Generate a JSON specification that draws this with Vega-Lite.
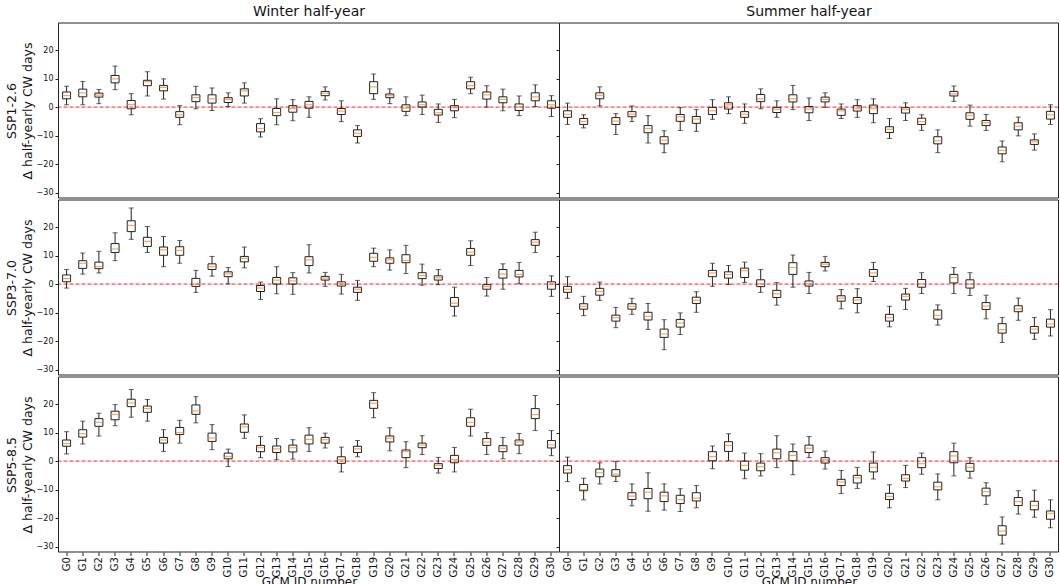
{
  "$schema": "https://vega.github.io/schema/vega-lite/v6.json",
  "background": "white",
  "padding": {"left": 5, "top": 4, "right": 0, "bottom": 0},
  "spacing": 0,
  "config": {
    "font": "DejaVu Sans",
    "view": {"stroke": null},
    "concat": {"spacing": 0},
    "axis": {"grid": false, "domain": false, "tickColor": "#222", "labelColor": "#111", "titleColor": "#111", "tickSize": 3.5, "labelFont": "DejaVu Sans", "titleFont": "DejaVu Sans", "titleFontWeight": "normal", "labelOverlap": false},
    "axisX": {"labelAngle": -90, "labelFontSize": 10, "titleFontSize": 12, "labelPadding": 1, "titlePadding": 0},
    "axisY": {"labelFontSize": 8, "labelPadding": 0, "titleFontSize": 12.5, "titleLineHeight": 16, "titlePadding": 2},
    "title": {"font": "DejaVu Sans", "fontWeight": "normal", "fontSize": 14, "color": "#111", "anchor": "middle", "offset": 4},
    "rule": {"color": "#222", "strokeWidth": 1},
    "tick": {"color": "#222", "thickness": 1}
  },
  "datasets": {
    "box": [
      {"s":"W","p":"SSP1-2.6","g":"G0","lo":0.8,"q1":2.9,"md":4.0,"q3":5.3,"hi":7.3},
      {"s":"W","p":"SSP1-2.6","g":"G1","lo":0.8,"q1":3.6,"md":5.0,"q3":6.3,"hi":9.0},
      {"s":"W","p":"SSP1-2.6","g":"G2","lo":1.2,"q1":3.5,"md":4.2,"q3":4.9,"hi":6.2},
      {"s":"W","p":"SSP1-2.6","g":"G3","lo":6.1,"q1":8.5,"md":9.9,"q3":11.1,"hi":14.4},
      {"s":"W","p":"SSP1-2.6","g":"G4","lo":-2.7,"q1":-0.6,"md":0.9,"q3":2.3,"hi":4.7},
      {"s":"W","p":"SSP1-2.6","g":"G5","lo":3.9,"q1":7.5,"md":8.9,"q3":9.4,"hi":12.4},
      {"s":"W","p":"SSP1-2.6","g":"G6","lo":2.8,"q1":5.7,"md":6.9,"q3":7.6,"hi":9.9},
      {"s":"W","p":"SSP1-2.6","g":"G7","lo":-6.2,"q1":-3.6,"md":-2.7,"q3":-1.6,"hi":0.5},
      {"s":"W","p":"SSP1-2.6","g":"G8","lo":-0.6,"q1":1.9,"md":3.3,"q3":4.3,"hi":7.3},
      {"s":"W","p":"SSP1-2.6","g":"G9","lo":-1.2,"q1":1.4,"md":2.9,"q3":4.3,"hi":6.7},
      {"s":"W","p":"SSP1-2.6","g":"G10","lo":0.2,"q1":1.6,"md":2.7,"q3":3.3,"hi":5.0},
      {"s":"W","p":"SSP1-2.6","g":"G11","lo":1.4,"q1":3.9,"md":5.7,"q3":6.4,"hi":8.5},
      {"s":"W","p":"SSP1-2.6","g":"G12","lo":-10.5,"q1":-8.7,"md":-7.5,"q3":-5.8,"hi":-4.1},
      {"s":"W","p":"SSP1-2.6","g":"G13","lo":-6.2,"q1":-3.0,"md":-1.9,"q3":-0.5,"hi":2.9},
      {"s":"W","p":"SSP1-2.6","g":"G14","lo":-4.8,"q1":-1.8,"md":-0.5,"q3":0.5,"hi":2.6},
      {"s":"W","p":"SSP1-2.6","g":"G15","lo":-3.6,"q1":-0.4,"md":0.8,"q3":2.0,"hi":3.6},
      {"s":"W","p":"SSP1-2.6","g":"G16","lo":2.5,"q1":4.0,"md":4.9,"q3":5.5,"hi":7.1},
      {"s":"W","p":"SSP1-2.6","g":"G17","lo":-5.1,"q1":-2.6,"md":-1.4,"q3":-0.5,"hi":2.2},
      {"s":"W","p":"SSP1-2.6","g":"G18","lo":-12.6,"q1":-10.3,"md":-9.2,"q3":-8.0,"hi":-6.5},
      {"s":"W","p":"SSP1-2.6","g":"G19","lo":2.7,"q1":4.7,"md":7.1,"q3":8.9,"hi":11.6},
      {"s":"W","p":"SSP1-2.6","g":"G20","lo":1.2,"q1":3.3,"md":4.0,"q3":4.6,"hi":6.4},
      {"s":"W","p":"SSP1-2.6","g":"G21","lo":-3.0,"q1":-1.5,"md":-0.4,"q3":0.8,"hi":3.6},
      {"s":"W","p":"SSP1-2.6","g":"G22","lo":-2.6,"q1":0.0,"md":0.8,"q3":1.8,"hi":4.2},
      {"s":"W","p":"SSP1-2.6","g":"G23","lo":-5.4,"q1":-2.8,"md":-2.0,"q3":-0.8,"hi":1.1},
      {"s":"W","p":"SSP1-2.6","g":"G24","lo":-3.7,"q1":-1.3,"md":-0.2,"q3":0.5,"hi":2.7},
      {"s":"W","p":"SSP1-2.6","g":"G25","lo":4.7,"q1":6.4,"md":7.5,"q3":8.9,"hi":10.5},
      {"s":"W","p":"SSP1-2.6","g":"G26","lo":0.0,"q1":2.8,"md":4.3,"q3":5.3,"hi":7.5},
      {"s":"W","p":"SSP1-2.6","g":"G27","lo":-1.3,"q1":1.5,"md":2.7,"q3":3.6,"hi":6.3},
      {"s":"W","p":"SSP1-2.6","g":"G28","lo":-3.0,"q1":-1.2,"md":0.0,"q3":1.1,"hi":3.9},
      {"s":"W","p":"SSP1-2.6","g":"G29","lo":0.2,"q1":2.2,"md":3.6,"q3":5.0,"hi":7.8},
      {"s":"W","p":"SSP1-2.6","g":"G30","lo":-3.3,"q1":-0.4,"md":0.8,"q3":2.2,"hi":4.0},

      {"s":"S","p":"SSP1-2.6","g":"G0","lo":-6.1,"q1":-3.6,"md":-2.5,"q3":-1.3,"hi":1.4},
      {"s":"S","p":"SSP1-2.6","g":"G1","lo":-7.3,"q1":-6.1,"md":-5.0,"q3":-4.0,"hi":-2.7},
      {"s":"S","p":"SSP1-2.6","g":"G2","lo":0.4,"q1":2.9,"md":4.1,"q3":5.0,"hi":7.1},
      {"s":"S","p":"SSP1-2.6","g":"G3","lo":-9.6,"q1":-6.1,"md":-4.9,"q3":-3.7,"hi":-2.3},
      {"s":"S","p":"SSP1-2.6","g":"G4","lo":-5.1,"q1":-3.4,"md":-2.5,"q3":-1.6,"hi":0.4},
      {"s":"S","p":"SSP1-2.6","g":"G5","lo":-12.6,"q1":-9.0,"md":-7.5,"q3":-6.5,"hi":-3.0},
      {"s":"S","p":"SSP1-2.6","g":"G6","lo":-16.0,"q1":-12.9,"md":-11.6,"q3":-10.4,"hi":-8.3},
      {"s":"S","p":"SSP1-2.6","g":"G7","lo":-8.2,"q1":-5.0,"md":-3.4,"q3":-2.6,"hi":-0.2},
      {"s":"S","p":"SSP1-2.6","g":"G8","lo":-8.5,"q1":-5.7,"md":-4.2,"q3":-3.3,"hi":-0.9},
      {"s":"S","p":"SSP1-2.6","g":"G9","lo":-4.3,"q1":-2.6,"md":-1.3,"q3":-0.1,"hi":2.6},
      {"s":"S","p":"SSP1-2.6","g":"G10","lo":-2.3,"q1":-0.7,"md":0.8,"q3":1.5,"hi":3.6},
      {"s":"S","p":"SSP1-2.6","g":"G11","lo":-5.7,"q1":-3.6,"md":-2.5,"q3":-1.6,"hi":1.1},
      {"s":"S","p":"SSP1-2.6","g":"G12","lo":-0.6,"q1":1.9,"md":2.9,"q3":4.4,"hi":6.4},
      {"s":"S","p":"SSP1-2.6","g":"G13","lo":-3.6,"q1":-1.9,"md":-0.8,"q3":-0.1,"hi":2.2},
      {"s":"S","p":"SSP1-2.6","g":"G14","lo":-0.9,"q1":1.8,"md":2.9,"q3":4.3,"hi":7.6},
      {"s":"S","p":"SSP1-2.6","g":"G15","lo":-4.7,"q1":-2.0,"md":-0.7,"q3":0.2,"hi":3.2},
      {"s":"S","p":"SSP1-2.6","g":"G16","lo":-0.1,"q1":1.8,"md":2.7,"q3":3.5,"hi":5.0},
      {"s":"S","p":"SSP1-2.6","g":"G17","lo":-4.0,"q1":-2.9,"md":-1.3,"q3":-0.7,"hi":1.1},
      {"s":"S","p":"SSP1-2.6","g":"G18","lo":-3.6,"q1":-1.4,"md":-0.6,"q3":0.5,"hi":2.6},
      {"s":"S","p":"SSP1-2.6","g":"G19","lo":-5.5,"q1":-2.3,"md":-0.6,"q3":0.7,"hi":2.9},
      {"s":"S","p":"SSP1-2.6","g":"G20","lo":-11.0,"q1":-8.9,"md":-7.8,"q3":-6.9,"hi":-4.0},
      {"s":"S","p":"SSP1-2.6","g":"G21","lo":-4.7,"q1":-2.1,"md":-0.9,"q3":-0.2,"hi":1.5},
      {"s":"S","p":"SSP1-2.6","g":"G22","lo":-8.2,"q1":-6.1,"md":-5.1,"q3":-3.9,"hi":-2.7},
      {"s":"S","p":"SSP1-2.6","g":"G23","lo":-16.0,"q1":-12.9,"md":-11.8,"q3":-10.4,"hi":-8.0},
      {"s":"S","p":"SSP1-2.6","g":"G24","lo":2.0,"q1":3.9,"md":4.6,"q3":5.5,"hi":7.4},
      {"s":"S","p":"SSP1-2.6","g":"G25","lo":-6.7,"q1":-4.3,"md":-2.9,"q3":-2.0,"hi":0.7},
      {"s":"S","p":"SSP1-2.6","g":"G26","lo":-8.2,"q1":-6.5,"md":-5.5,"q3":-4.7,"hi":-2.6},
      {"s":"S","p":"SSP1-2.6","g":"G27","lo":-19.2,"q1":-16.4,"md":-15.2,"q3":-14.0,"hi":-11.9},
      {"s":"S","p":"SSP1-2.6","g":"G28","lo":-10.1,"q1":-8.0,"md":-6.7,"q3":-5.5,"hi":-3.5},
      {"s":"S","p":"SSP1-2.6","g":"G29","lo":-15.1,"q1":-13.1,"md":-12.2,"q3":-11.5,"hi":-9.4},
      {"s":"S","p":"SSP1-2.6","g":"G30","lo":-6.1,"q1":-4.2,"md":-2.7,"q3":-1.5,"hi":0.8},

      {"s":"W","p":"SSP3-7.0","g":"G0","lo":-1.4,"q1":0.8,"md":1.9,"q3":3.2,"hi":5.1},
      {"s":"W","p":"SSP3-7.0","g":"G1","lo":3.5,"q1":5.5,"md":7.3,"q3":8.2,"hi":10.9},
      {"s":"W","p":"SSP3-7.0","g":"G2","lo":3.9,"q1":5.4,"md":6.1,"q3":7.7,"hi":11.5},
      {"s":"W","p":"SSP3-7.0","g":"G3","lo":8.2,"q1":11.1,"md":12.3,"q3":14.2,"hi":18.0},
      {"s":"W","p":"SSP3-7.0","g":"G4","lo":15.7,"q1":18.4,"md":20.6,"q3":22.2,"hi":26.7},
      {"s":"W","p":"SSP3-7.0","g":"G5","lo":11.1,"q1":13.2,"md":15.0,"q3":16.4,"hi":20.2},
      {"s":"W","p":"SSP3-7.0","g":"G6","lo":6.1,"q1":10.1,"md":12.0,"q3":13.0,"hi":16.7},
      {"s":"W","p":"SSP3-7.0","g":"G7","lo":7.3,"q1":10.1,"md":11.8,"q3":13.1,"hi":15.3},
      {"s":"W","p":"SSP3-7.0","g":"G8","lo":-2.9,"q1":-0.8,"md":0.0,"q3":2.0,"hi":4.8},
      {"s":"W","p":"SSP3-7.0","g":"G9","lo":2.8,"q1":5.1,"md":6.1,"q3":7.1,"hi":9.7},
      {"s":"W","p":"SSP3-7.0","g":"G10","lo":0.1,"q1":2.6,"md":3.6,"q3":4.3,"hi":5.8},
      {"s":"W","p":"SSP3-7.0","g":"G11","lo":5.7,"q1":7.8,"md":9.0,"q3":9.7,"hi":13.0},
      {"s":"W","p":"SSP3-7.0","g":"G12","lo":-5.4,"q1":-2.6,"md":-1.4,"q3":-0.5,"hi":0.7},
      {"s":"W","p":"SSP3-7.0","g":"G13","lo":-3.4,"q1":0.0,"md":1.4,"q3":2.3,"hi":6.1},
      {"s":"W","p":"SSP3-7.0","g":"G14","lo":-3.6,"q1":0.0,"md":1.1,"q3":2.2,"hi":4.0},
      {"s":"W","p":"SSP3-7.0","g":"G15","lo":3.9,"q1":6.5,"md":8.5,"q3":9.6,"hi":13.8},
      {"s":"W","p":"SSP3-7.0","g":"G16","lo":-0.8,"q1":1.4,"md":2.1,"q3":2.7,"hi":4.1},
      {"s":"W","p":"SSP3-7.0","g":"G17","lo":-3.5,"q1":-0.7,"md":0.1,"q3":0.8,"hi":3.4},
      {"s":"W","p":"SSP3-7.0","g":"G18","lo":-5.7,"q1":-2.9,"md":-1.8,"q3":-1.1,"hi":1.3},
      {"s":"W","p":"SSP3-7.0","g":"G19","lo":6.1,"q1":8.0,"md":9.4,"q3":10.8,"hi":12.6},
      {"s":"W","p":"SSP3-7.0","g":"G20","lo":4.9,"q1":7.3,"md":8.5,"q3":9.2,"hi":12.0},
      {"s":"W","p":"SSP3-7.0","g":"G21","lo":3.7,"q1":7.5,"md":8.3,"q3":10.3,"hi":13.6},
      {"s":"W","p":"SSP3-7.0","g":"G22","lo":-0.4,"q1":1.9,"md":3.0,"q3":4.0,"hi":7.0},
      {"s":"W","p":"SSP3-7.0","g":"G23","lo":-0.2,"q1":1.4,"md":2.2,"q3":2.9,"hi":5.1},
      {"s":"W","p":"SSP3-7.0","g":"G24","lo":-11.2,"q1":-7.8,"md":-6.7,"q3":-4.7,"hi":-1.1},
      {"s":"W","p":"SSP3-7.0","g":"G25","lo":6.5,"q1":10.1,"md":11.2,"q3":12.5,"hi":15.2},
      {"s":"W","p":"SSP3-7.0","g":"G26","lo":-4.2,"q1":-1.8,"md":-0.9,"q3":-0.2,"hi":2.3},
      {"s":"W","p":"SSP3-7.0","g":"G27","lo":-1.8,"q1":2.1,"md":3.5,"q3":5.1,"hi":7.1},
      {"s":"W","p":"SSP3-7.0","g":"G28","lo":0.1,"q1":2.5,"md":3.4,"q3":4.8,"hi":7.6},
      {"s":"W","p":"SSP3-7.0","g":"G29","lo":11.1,"q1":13.6,"md":14.7,"q3":15.6,"hi":18.2},
      {"s":"W","p":"SSP3-7.0","g":"G30","lo":-4.3,"q1":-1.8,"md":0.0,"q3":0.8,"hi":2.9},

      {"s":"S","p":"SSP3-7.0","g":"G0","lo":-5.0,"q1":-2.9,"md":-1.8,"q3":-0.8,"hi":2.6},
      {"s":"S","p":"SSP3-7.0","g":"G1","lo":-11.1,"q1":-8.8,"md":-7.8,"q3":-6.9,"hi":-4.3},
      {"s":"S","p":"SSP3-7.0","g":"G2","lo":-5.7,"q1":-3.9,"md":-2.6,"q3":-1.5,"hi":0.7},
      {"s":"S","p":"SSP3-7.0","g":"G3","lo":-15.3,"q1":-13.0,"md":-11.8,"q3":-10.9,"hi":-8.2},
      {"s":"S","p":"SSP3-7.0","g":"G4","lo":-10.6,"q1":-8.8,"md":-7.8,"q3":-6.9,"hi":-5.0},
      {"s":"S","p":"SSP3-7.0","g":"G5","lo":-15.9,"q1":-12.6,"md":-11.3,"q3":-9.9,"hi":-6.8},
      {"s":"S","p":"SSP3-7.0","g":"G6","lo":-23.0,"q1":-18.7,"md":-17.5,"q3":-15.8,"hi":-12.5},
      {"s":"S","p":"SSP3-7.0","g":"G7","lo":-17.7,"q1":-15.1,"md":-13.7,"q3":-12.4,"hi":-10.1},
      {"s":"S","p":"SSP3-7.0","g":"G8","lo":-9.9,"q1":-6.8,"md":-5.7,"q3":-4.6,"hi":-2.7},
      {"s":"S","p":"SSP3-7.0","g":"G9","lo":-0.8,"q1":2.6,"md":3.9,"q3":4.8,"hi":7.3},
      {"s":"S","p":"SSP3-7.0","g":"G10","lo":-0.1,"q1":2.1,"md":3.4,"q3":4.3,"hi":6.5},
      {"s":"S","p":"SSP3-7.0","g":"G11","lo":0.6,"q1":2.3,"md":4.7,"q3":5.6,"hi":7.7},
      {"s":"S","p":"SSP3-7.0","g":"G12","lo":-2.9,"q1":-0.9,"md":0.1,"q3":1.5,"hi":5.1},
      {"s":"S","p":"SSP3-7.0","g":"G13","lo":-7.4,"q1":-4.7,"md":-3.4,"q3":-2.2,"hi":0.5},
      {"s":"S","p":"SSP3-7.0","g":"G14","lo":-1.1,"q1":3.4,"md":5.8,"q3":7.5,"hi":10.2},
      {"s":"S","p":"SSP3-7.0","g":"G15","lo":-3.3,"q1":-0.7,"md":0.1,"q3":1.1,"hi":4.1},
      {"s":"S","p":"SSP3-7.0","g":"G16","lo":4.6,"q1":6.1,"md":7.0,"q3":7.6,"hi":9.7},
      {"s":"S","p":"SSP3-7.0","g":"G17","lo":-8.7,"q1":-6.0,"md":-4.9,"q3":-4.1,"hi":-1.9},
      {"s":"S","p":"SSP3-7.0","g":"G18","lo":-10.1,"q1":-6.8,"md":-5.6,"q3":-4.7,"hi":-1.6},
      {"s":"S","p":"SSP3-7.0","g":"G19","lo":0.9,"q1":2.7,"md":3.9,"q3":5.1,"hi":7.6},
      {"s":"S","p":"SSP3-7.0","g":"G20","lo":-15.0,"q1":-13.0,"md":-11.8,"q3":-10.6,"hi":-7.8},
      {"s":"S","p":"SSP3-7.0","g":"G21","lo":-8.9,"q1":-5.6,"md":-4.3,"q3":-3.5,"hi":-1.5},
      {"s":"S","p":"SSP3-7.0","g":"G22","lo":-3.3,"q1":-1.1,"md":0.1,"q3":1.6,"hi":4.0},
      {"s":"S","p":"SSP3-7.0","g":"G23","lo":-14.4,"q1":-12.3,"md":-11.0,"q3":-9.1,"hi":-7.3},
      {"s":"S","p":"SSP3-7.0","g":"G24","lo":-3.3,"q1":0.4,"md":2.3,"q3":3.4,"hi":5.8},
      {"s":"S","p":"SSP3-7.0","g":"G25","lo":-4.0,"q1":-1.4,"md":0.0,"q3":1.5,"hi":4.0},
      {"s":"S","p":"SSP3-7.0","g":"G26","lo":-12.2,"q1":-8.9,"md":-7.7,"q3":-6.5,"hi":-3.9},
      {"s":"S","p":"SSP3-7.0","g":"G27","lo":-20.5,"q1":-17.2,"md":-16.0,"q3":-13.9,"hi":-11.7},
      {"s":"S","p":"SSP3-7.0","g":"G28","lo":-12.7,"q1":-9.7,"md":-8.7,"q3":-7.6,"hi":-4.9},
      {"s":"S","p":"SSP3-7.0","g":"G29","lo":-19.4,"q1":-17.2,"md":-15.8,"q3":-14.9,"hi":-11.7},
      {"s":"S","p":"SSP3-7.0","g":"G30","lo":-18.2,"q1":-15.1,"md":-14.0,"q3":-12.3,"hi":-9.0},

      {"s":"W","p":"SSP5-8.5","g":"G0","lo":2.5,"q1":5.2,"md":6.1,"q3":7.4,"hi":10.3},
      {"s":"W","p":"SSP5-8.5","g":"G1","lo":6.0,"q1":8.4,"md":9.6,"q3":11.0,"hi":14.0},
      {"s":"W","p":"SSP5-8.5","g":"G2","lo":8.8,"q1":12.2,"md":13.6,"q3":14.9,"hi":16.8},
      {"s":"W","p":"SSP5-8.5","g":"G3","lo":12.4,"q1":14.5,"md":16.4,"q3":17.5,"hi":19.8},
      {"s":"W","p":"SSP5-8.5","g":"G4","lo":15.4,"q1":19.1,"md":20.4,"q3":21.7,"hi":25.1},
      {"s":"W","p":"SSP5-8.5","g":"G5","lo":14.0,"q1":17.1,"md":18.4,"q3":19.3,"hi":21.6},
      {"s":"W","p":"SSP5-8.5","g":"G6","lo":3.4,"q1":6.3,"md":7.4,"q3":8.3,"hi":11.0},
      {"s":"W","p":"SSP5-8.5","g":"G7","lo":6.3,"q1":9.3,"md":10.0,"q3":11.8,"hi":14.3},
      {"s":"W","p":"SSP5-8.5","g":"G8","lo":13.4,"q1":16.4,"md":17.6,"q3":19.7,"hi":22.6},
      {"s":"W","p":"SSP5-8.5","g":"G9","lo":4.0,"q1":6.9,"md":8.1,"q3":9.8,"hi":12.8},
      {"s":"W","p":"SSP5-8.5","g":"G10","lo":-1.9,"q1":0.8,"md":1.6,"q3":2.8,"hi":4.2},
      {"s":"W","p":"SSP5-8.5","g":"G11","lo":8.0,"q1":10.1,"md":12.0,"q3":13.0,"hi":16.2},
      {"s":"W","p":"SSP5-8.5","g":"G12","lo":1.2,"q1":3.3,"md":4.7,"q3":5.5,"hi":8.6},
      {"s":"W","p":"SSP5-8.5","g":"G13","lo":0.5,"q1":3.0,"md":4.3,"q3":5.3,"hi":7.9},
      {"s":"W","p":"SSP5-8.5","g":"G14","lo":0.7,"q1":3.2,"md":4.7,"q3":5.6,"hi":7.5},
      {"s":"W","p":"SSP5-8.5","g":"G15","lo":3.4,"q1":6.0,"md":7.6,"q3":9.1,"hi":11.7},
      {"s":"W","p":"SSP5-8.5","g":"G16","lo":4.6,"q1":6.3,"md":7.5,"q3":8.3,"hi":9.8},
      {"s":"W","p":"SSP5-8.5","g":"G17","lo":-3.8,"q1":-0.8,"md":0.5,"q3":1.5,"hi":4.9},
      {"s":"W","p":"SSP5-8.5","g":"G18","lo":1.5,"q1":3.0,"md":4.3,"q3":5.2,"hi":7.2},
      {"s":"W","p":"SSP5-8.5","g":"G19","lo":15.2,"q1":18.5,"md":20.3,"q3":21.3,"hi":24.0},
      {"s":"W","p":"SSP5-8.5","g":"G20","lo":3.6,"q1":6.7,"md":8.0,"q3":8.8,"hi":11.7},
      {"s":"W","p":"SSP5-8.5","g":"G21","lo":-2.3,"q1":1.2,"md":3.3,"q3":3.9,"hi":6.8},
      {"s":"W","p":"SSP5-8.5","g":"G22","lo":2.3,"q1":4.7,"md":5.6,"q3":6.3,"hi":8.9},
      {"s":"W","p":"SSP5-8.5","g":"G23","lo":-4.2,"q1":-2.6,"md":-1.5,"q3":-0.9,"hi":1.3},
      {"s":"W","p":"SSP5-8.5","g":"G24","lo":-3.8,"q1":-0.6,"md":0.6,"q3":2.0,"hi":4.8},
      {"s":"W","p":"SSP5-8.5","g":"G25","lo":8.8,"q1":12.2,"md":13.6,"q3":15.2,"hi":18.2},
      {"s":"W","p":"SSP5-8.5","g":"G26","lo":2.3,"q1":5.5,"md":6.7,"q3":7.9,"hi":10.0},
      {"s":"W","p":"SSP5-8.5","g":"G27","lo":0.8,"q1":3.3,"md":4.5,"q3":5.4,"hi":8.3},
      {"s":"W","p":"SSP5-8.5","g":"G28","lo":2.6,"q1":5.6,"md":6.7,"q3":7.4,"hi":9.7},
      {"s":"W","p":"SSP5-8.5","g":"G29","lo":10.7,"q1":14.9,"md":16.3,"q3":18.4,"hi":23.0},
      {"s":"W","p":"SSP5-8.5","g":"G30","lo":1.9,"q1":4.6,"md":5.7,"q3":7.2,"hi":10.7},

      {"s":"S","p":"SSP5-8.5","g":"G0","lo":-7.2,"q1":-4.2,"md":-3.0,"q3":-1.6,"hi":1.4},
      {"s":"S","p":"SSP5-8.5","g":"G1","lo":-13.6,"q1":-10.4,"md":-10.0,"q3":-8.2,"hi":-6.0},
      {"s":"S","p":"SSP5-8.5","g":"G2","lo":-8.0,"q1":-5.5,"md":-4.1,"q3":-2.8,"hi":-0.6},
      {"s":"S","p":"SSP5-8.5","g":"G3","lo":-7.2,"q1":-5.3,"md":-4.6,"q3":-3.0,"hi":-0.2},
      {"s":"S","p":"SSP5-8.5","g":"G4","lo":-15.7,"q1":-13.5,"md":-12.3,"q3":-11.1,"hi":-8.0},
      {"s":"S","p":"SSP5-8.5","g":"G5","lo":-17.6,"q1":-13.2,"md":-10.9,"q3":-9.6,"hi":-4.1},
      {"s":"S","p":"SSP5-8.5","g":"G6","lo":-17.2,"q1":-14.2,"md":-12.2,"q3":-10.9,"hi":-8.0},
      {"s":"S","p":"SSP5-8.5","g":"G7","lo":-17.7,"q1":-14.9,"md":-13.5,"q3":-12.0,"hi":-9.7},
      {"s":"S","p":"SSP5-8.5","g":"G8","lo":-16.4,"q1":-14.0,"md":-13.0,"q3":-11.1,"hi":-8.6},
      {"s":"S","p":"SSP5-8.5","g":"G9","lo":-2.7,"q1":0.1,"md":1.6,"q3":3.3,"hi":5.3},
      {"s":"S","p":"SSP5-8.5","g":"G10","lo":0.1,"q1":3.4,"md":5.5,"q3":6.8,"hi":9.6},
      {"s":"S","p":"SSP5-8.5","g":"G11","lo":-6.2,"q1":-3.2,"md":-1.5,"q3":0.0,"hi":2.8},
      {"s":"S","p":"SSP5-8.5","g":"G12","lo":-5.2,"q1":-3.4,"md":-2.0,"q3":-0.7,"hi":2.6},
      {"s":"S","p":"SSP5-8.5","g":"G13","lo":-2.3,"q1":0.8,"md":2.9,"q3":4.2,"hi":8.9},
      {"s":"S","p":"SSP5-8.5","g":"G14","lo":-4.8,"q1":0.1,"md":2.0,"q3":3.3,"hi":6.0},
      {"s":"S","p":"SSP5-8.5","g":"G15","lo":1.2,"q1":3.0,"md":4.5,"q3":5.6,"hi":8.6},
      {"s":"S","p":"SSP5-8.5","g":"G16","lo":-2.8,"q1":-0.7,"md":0.5,"q3":1.2,"hi":3.5},
      {"s":"S","p":"SSP5-8.5","g":"G17","lo":-11.4,"q1":-8.6,"md":-7.3,"q3":-6.4,"hi":-3.3},
      {"s":"S","p":"SSP5-8.5","g":"G18","lo":-9.6,"q1":-7.7,"md":-5.9,"q3":-5.0,"hi":-2.2},
      {"s":"S","p":"SSP5-8.5","g":"G19","lo":-6.3,"q1":-3.8,"md":-2.2,"q3":-0.7,"hi":3.2},
      {"s":"S","p":"SSP5-8.5","g":"G20","lo":-16.4,"q1":-13.5,"md":-12.4,"q3":-11.3,"hi":-8.3},
      {"s":"S","p":"SSP5-8.5","g":"G21","lo":-9.3,"q1":-7.0,"md":-6.1,"q3":-4.8,"hi":-1.5},
      {"s":"S","p":"SSP5-8.5","g":"G22","lo":-4.6,"q1":-2.3,"md":-0.9,"q3":1.2,"hi":2.8},
      {"s":"S","p":"SSP5-8.5","g":"G23","lo":-13.6,"q1":-10.1,"md":-9.0,"q3":-7.4,"hi":-4.5},
      {"s":"S","p":"SSP5-8.5","g":"G24","lo":-5.2,"q1":-0.6,"md":1.8,"q3":3.3,"hi":6.3},
      {"s":"S","p":"SSP5-8.5","g":"G25","lo":-6.0,"q1":-3.6,"md":-2.2,"q3":-0.8,"hi":1.2},
      {"s":"S","p":"SSP5-8.5","g":"G26","lo":-15.2,"q1":-12.2,"md":-10.7,"q3":-9.5,"hi":-7.6},
      {"s":"S","p":"SSP5-8.5","g":"G27","lo":-29.1,"q1":-26.0,"md":-24.6,"q3":-22.7,"hi":-19.6},
      {"s":"S","p":"SSP5-8.5","g":"G28","lo":-18.6,"q1":-15.6,"md":-14.2,"q3":-12.8,"hi":-10.4},
      {"s":"S","p":"SSP5-8.5","g":"G29","lo":-19.7,"q1":-17.1,"md":-15.6,"q3":-14.1,"hi":-10.2},
      {"s":"S","p":"SSP5-8.5","g":"G30","lo":-23.4,"q1":-20.4,"md":-18.3,"q3":-17.5,"hi":-13.6}
    ]
  },
  "vconcat": [
    {
      "bounds": "flush",
      "spacing": 4.5,
      "hconcat": [
        {
          "data": {"name": "box"},
          "transform": [{"filter": "datum.s === 'W' && datum.p === 'SSP1-2.6' && datum.g === 'G0'"}],
          "width": 1, "height": 175,
          "mark": {"type": "rule", "opacity": 0},
          "encoding": {"y": {"datum": 0, "type": "quantitative", "scale": {"domain": [-31.9, 29.5], "nice": false, "zero": false}, "axis": {"values": [-30, -20, -10, 0, 10, 20], "ticks": false, "tickSize": 0, "title": ["SSP1-2.6", "Δ half-yearly CW days"]}}}
        },
        {
          "bounds": "flush",
          "spacing": 0,
          "hconcat": [
            {
              "title": "Winter half-year",
              "data": {"name": "box"},
              "transform": [{"filter": "datum.s === 'W' && datum.p === 'SSP1-2.6'"}],
              "width": 501, "height": 175,
              "layer": [
                {"transform": [{"filter": "datum.g === 'G0'"}], "mark": {"type": "rule", "color": "#f22", "strokeDash": [4, 2]},
                 "encoding": {"y": {"datum": 0, "type": "quantitative", "scale": {"domain": [-31.9, 29.5], "nice": false, "zero": false}, "axis": {"values": [-30, -20, -10, 0, 10, 20], "title": null, "labels": false}}}},
                {"mark": "rule", "encoding": {"x": {"field": "g", "type": "nominal", "axis": null, "scale": {"type": "band", "padding": 0, "domain": ["G0","G1","G2","G3","G4","G5","G6","G7","G8","G9","G10","G11","G12","G13","G14","G15","G16","G17","G18","G19","G20","G21","G22","G23","G24","G25","G26","G27","G28","G29","G30"]}}, "y": {"field": "lo", "type": "quantitative", "axis": {"values": [-30, -20, -10, 0, 10, 20], "title": null, "labels": false}}, "y2": {"field": "q1"}}},
                {"mark": "rule", "encoding": {"x": {"field": "g", "type": "nominal", "axis": null}, "y": {"field": "q3", "type": "quantitative", "axis": {"values": [-30, -20, -10, 0, 10, 20], "title": null, "labels": false}}, "y2": {"field": "hi"}}},
                {"mark": {"type": "tick", "size": 5}, "encoding": {"x": {"field": "g", "type": "nominal", "axis": null}, "y": {"field": "lo", "type": "quantitative", "axis": {"values": [-30, -20, -10, 0, 10, 20], "title": null, "labels": false}}}},
                {"mark": {"type": "tick", "size": 5}, "encoding": {"x": {"field": "g", "type": "nominal", "axis": null}, "y": {"field": "hi", "type": "quantitative", "axis": {"values": [-30, -20, -10, 0, 10, 20], "title": null, "labels": false}}}},
                {"mark": {"type": "bar", "filled": false, "stroke": "#222", "strokeWidth": 1, "width": 8}, "encoding": {"x": {"field": "g", "type": "nominal", "axis": null}, "y": {"field": "q1", "type": "quantitative", "axis": {"values": [-30, -20, -10, 0, 10, 20], "title": null, "labels": false}}, "y2": {"field": "q3"}}},
                {"mark": {"type": "tick", "color": "#ff7f0e", "thickness": 1.2, "size": 8}, "encoding": {"x": {"field": "g", "type": "nominal", "axis": null}, "y": {"field": "md", "type": "quantitative", "axis": {"values": [-30, -20, -10, 0, 10, 20], "title": null, "labels": false}}}},
                {"transform": [{"filter": "datum.g === 'G0'"}], "mark": {"type": "rect", "filled": false, "stroke": "#222", "strokeWidth": 1},
                 "encoding": {"y": {"datum": -31.9, "type": "quantitative", "axis": {"values": [-30, -20, -10, 0, 10, 20], "title": null, "labels": false}}, "y2": {"datum": 29.5}}}
              ]
            },
            {
              "title": "Summer half-year",
              "data": {"name": "box"},
              "transform": [{"filter": "datum.s === 'S' && datum.p === 'SSP1-2.6'"}],
              "width": 499, "height": 175,
              "layer": [
                {"transform": [{"filter": "datum.g === 'G0'"}], "mark": {"type": "rule", "color": "#f22", "strokeDash": [4, 2]},
                 "encoding": {"y": {"datum": 0, "type": "quantitative", "scale": {"domain": [-31.9, 29.5], "nice": false, "zero": false}, "axis": {"values": [-30, -20, -10, 0, 10, 20], "title": null, "labels": false}}}},
                {"mark": "rule", "encoding": {"x": {"field": "g", "type": "nominal", "axis": null, "scale": {"type": "band", "padding": 0, "domain": ["G0","G1","G2","G3","G4","G5","G6","G7","G8","G9","G10","G11","G12","G13","G14","G15","G16","G17","G18","G19","G20","G21","G22","G23","G24","G25","G26","G27","G28","G29","G30"]}}, "y": {"field": "lo", "type": "quantitative", "axis": {"values": [-30, -20, -10, 0, 10, 20], "title": null, "labels": false}}, "y2": {"field": "q1"}}},
                {"mark": "rule", "encoding": {"x": {"field": "g", "type": "nominal", "axis": null}, "y": {"field": "q3", "type": "quantitative", "axis": {"values": [-30, -20, -10, 0, 10, 20], "title": null, "labels": false}}, "y2": {"field": "hi"}}},
                {"mark": {"type": "tick", "size": 5}, "encoding": {"x": {"field": "g", "type": "nominal", "axis": null}, "y": {"field": "lo", "type": "quantitative", "axis": {"values": [-30, -20, -10, 0, 10, 20], "title": null, "labels": false}}}},
                {"mark": {"type": "tick", "size": 5}, "encoding": {"x": {"field": "g", "type": "nominal", "axis": null}, "y": {"field": "hi", "type": "quantitative", "axis": {"values": [-30, -20, -10, 0, 10, 20], "title": null, "labels": false}}}},
                {"mark": {"type": "bar", "filled": false, "stroke": "#222", "strokeWidth": 1, "width": 8}, "encoding": {"x": {"field": "g", "type": "nominal", "axis": null}, "y": {"field": "q1", "type": "quantitative", "axis": {"values": [-30, -20, -10, 0, 10, 20], "title": null, "labels": false}}, "y2": {"field": "q3"}}},
                {"mark": {"type": "tick", "color": "#ff7f0e", "thickness": 1.2, "size": 8}, "encoding": {"x": {"field": "g", "type": "nominal", "axis": null}, "y": {"field": "md", "type": "quantitative", "axis": {"values": [-30, -20, -10, 0, 10, 20], "title": null, "labels": false}}}},
                {"transform": [{"filter": "datum.g === 'G0'"}], "mark": {"type": "rect", "filled": false, "stroke": "#222", "strokeWidth": 1},
                 "encoding": {"y": {"datum": -31.9, "type": "quantitative", "axis": {"values": [-30, -20, -10, 0, 10, 20], "title": null, "labels": false}}, "y2": {"datum": 29.5}}}
              ]
            }
          ]
        }
      ]
    },
    {
      "bounds": "flush",
      "spacing": 4.5,
      "hconcat": [
        {
          "data": {"name": "box"},
          "transform": [{"filter": "datum.s === 'W' && datum.p === 'SSP3-7.0' && datum.g === 'G0'"}],
          "width": 1, "height": 175,
          "mark": {"type": "rule", "opacity": 0},
          "encoding": {"y": {"datum": 0, "type": "quantitative", "scale": {"domain": [-31.9, 29.5], "nice": false, "zero": false}, "axis": {"values": [-30, -20, -10, 0, 10, 20], "ticks": false, "tickSize": 0, "title": ["SSP3-7.0", "Δ half-yearly CW days"]}}}
        },
        {
          "bounds": "flush",
          "spacing": 0,
          "hconcat": [
            {
              "data": {"name": "box"},
              "transform": [{"filter": "datum.s === 'W' && datum.p === 'SSP3-7.0'"}],
              "width": 501, "height": 175,
              "layer": [
                {"transform": [{"filter": "datum.g === 'G0'"}], "mark": {"type": "rule", "color": "#f22", "strokeDash": [4, 2]},
                 "encoding": {"y": {"datum": 0, "type": "quantitative", "scale": {"domain": [-31.9, 29.5], "nice": false, "zero": false}, "axis": {"values": [-30, -20, -10, 0, 10, 20], "title": null, "labels": false}}}},
                {"mark": "rule", "encoding": {"x": {"field": "g", "type": "nominal", "axis": null, "scale": {"type": "band", "padding": 0, "domain": ["G0","G1","G2","G3","G4","G5","G6","G7","G8","G9","G10","G11","G12","G13","G14","G15","G16","G17","G18","G19","G20","G21","G22","G23","G24","G25","G26","G27","G28","G29","G30"]}}, "y": {"field": "lo", "type": "quantitative", "axis": {"values": [-30, -20, -10, 0, 10, 20], "title": null, "labels": false}}, "y2": {"field": "q1"}}},
                {"mark": "rule", "encoding": {"x": {"field": "g", "type": "nominal", "axis": null}, "y": {"field": "q3", "type": "quantitative", "axis": {"values": [-30, -20, -10, 0, 10, 20], "title": null, "labels": false}}, "y2": {"field": "hi"}}},
                {"mark": {"type": "tick", "size": 5}, "encoding": {"x": {"field": "g", "type": "nominal", "axis": null}, "y": {"field": "lo", "type": "quantitative", "axis": {"values": [-30, -20, -10, 0, 10, 20], "title": null, "labels": false}}}},
                {"mark": {"type": "tick", "size": 5}, "encoding": {"x": {"field": "g", "type": "nominal", "axis": null}, "y": {"field": "hi", "type": "quantitative", "axis": {"values": [-30, -20, -10, 0, 10, 20], "title": null, "labels": false}}}},
                {"mark": {"type": "bar", "filled": false, "stroke": "#222", "strokeWidth": 1, "width": 8}, "encoding": {"x": {"field": "g", "type": "nominal", "axis": null}, "y": {"field": "q1", "type": "quantitative", "axis": {"values": [-30, -20, -10, 0, 10, 20], "title": null, "labels": false}}, "y2": {"field": "q3"}}},
                {"mark": {"type": "tick", "color": "#ff7f0e", "thickness": 1.2, "size": 8}, "encoding": {"x": {"field": "g", "type": "nominal", "axis": null}, "y": {"field": "md", "type": "quantitative", "axis": {"values": [-30, -20, -10, 0, 10, 20], "title": null, "labels": false}}}},
                {"transform": [{"filter": "datum.g === 'G0'"}], "mark": {"type": "rect", "filled": false, "stroke": "#222", "strokeWidth": 1},
                 "encoding": {"y": {"datum": -31.9, "type": "quantitative", "axis": {"values": [-30, -20, -10, 0, 10, 20], "title": null, "labels": false}}, "y2": {"datum": 29.5}}}
              ]
            },
            {
              "data": {"name": "box"},
              "transform": [{"filter": "datum.s === 'S' && datum.p === 'SSP3-7.0'"}],
              "width": 499, "height": 175,
              "layer": [
                {"transform": [{"filter": "datum.g === 'G0'"}], "mark": {"type": "rule", "color": "#f22", "strokeDash": [4, 2]},
                 "encoding": {"y": {"datum": 0, "type": "quantitative", "scale": {"domain": [-31.9, 29.5], "nice": false, "zero": false}, "axis": {"values": [-30, -20, -10, 0, 10, 20], "title": null, "labels": false}}}},
                {"mark": "rule", "encoding": {"x": {"field": "g", "type": "nominal", "axis": null, "scale": {"type": "band", "padding": 0, "domain": ["G0","G1","G2","G3","G4","G5","G6","G7","G8","G9","G10","G11","G12","G13","G14","G15","G16","G17","G18","G19","G20","G21","G22","G23","G24","G25","G26","G27","G28","G29","G30"]}}, "y": {"field": "lo", "type": "quantitative", "axis": {"values": [-30, -20, -10, 0, 10, 20], "title": null, "labels": false}}, "y2": {"field": "q1"}}},
                {"mark": "rule", "encoding": {"x": {"field": "g", "type": "nominal", "axis": null}, "y": {"field": "q3", "type": "quantitative", "axis": {"values": [-30, -20, -10, 0, 10, 20], "title": null, "labels": false}}, "y2": {"field": "hi"}}},
                {"mark": {"type": "tick", "size": 5}, "encoding": {"x": {"field": "g", "type": "nominal", "axis": null}, "y": {"field": "lo", "type": "quantitative", "axis": {"values": [-30, -20, -10, 0, 10, 20], "title": null, "labels": false}}}},
                {"mark": {"type": "tick", "size": 5}, "encoding": {"x": {"field": "g", "type": "nominal", "axis": null}, "y": {"field": "hi", "type": "quantitative", "axis": {"values": [-30, -20, -10, 0, 10, 20], "title": null, "labels": false}}}},
                {"mark": {"type": "bar", "filled": false, "stroke": "#222", "strokeWidth": 1, "width": 8}, "encoding": {"x": {"field": "g", "type": "nominal", "axis": null}, "y": {"field": "q1", "type": "quantitative", "axis": {"values": [-30, -20, -10, 0, 10, 20], "title": null, "labels": false}}, "y2": {"field": "q3"}}},
                {"mark": {"type": "tick", "color": "#ff7f0e", "thickness": 1.2, "size": 8}, "encoding": {"x": {"field": "g", "type": "nominal", "axis": null}, "y": {"field": "md", "type": "quantitative", "axis": {"values": [-30, -20, -10, 0, 10, 20], "title": null, "labels": false}}}},
                {"transform": [{"filter": "datum.g === 'G0'"}], "mark": {"type": "rect", "filled": false, "stroke": "#222", "strokeWidth": 1},
                 "encoding": {"y": {"datum": -31.9, "type": "quantitative", "axis": {"values": [-30, -20, -10, 0, 10, 20], "title": null, "labels": false}}, "y2": {"datum": 29.5}}}
              ]
            }
          ]
        }
      ]
    },
    {
      "bounds": "flush",
      "spacing": 4.5,
      "hconcat": [
        {
          "data": {"name": "box"},
          "transform": [{"filter": "datum.s === 'W' && datum.p === 'SSP5-8.5' && datum.g === 'G0'"}],
          "width": 1, "height": 175,
          "mark": {"type": "rule", "opacity": 0},
          "encoding": {"y": {"datum": 0, "type": "quantitative", "scale": {"domain": [-31.9, 29.5], "nice": false, "zero": false}, "axis": {"values": [-30, -20, -10, 0, 10, 20], "ticks": false, "tickSize": 0, "title": ["SSP5-8.5", "Δ half-yearly CW days"]}}}
        },
        {
          "bounds": "flush",
          "spacing": 0,
          "hconcat": [
            {
              "data": {"name": "box"},
              "transform": [{"filter": "datum.s === 'W' && datum.p === 'SSP5-8.5'"}],
              "width": 501, "height": 175,
              "layer": [
                {"transform": [{"filter": "datum.g === 'G0'"}], "mark": {"type": "rule", "color": "#f22", "strokeDash": [4, 2]},
                 "encoding": {"y": {"datum": 0, "type": "quantitative", "scale": {"domain": [-31.9, 29.5], "nice": false, "zero": false}, "axis": {"values": [-30, -20, -10, 0, 10, 20], "title": null, "labels": false}}}},
                {"mark": "rule", "encoding": {"x": {"field": "g", "type": "nominal", "axis": {"title": "GCM ID number"}, "scale": {"type": "band", "padding": 0, "domain": ["G0","G1","G2","G3","G4","G5","G6","G7","G8","G9","G10","G11","G12","G13","G14","G15","G16","G17","G18","G19","G20","G21","G22","G23","G24","G25","G26","G27","G28","G29","G30"]}}, "y": {"field": "lo", "type": "quantitative", "axis": {"values": [-30, -20, -10, 0, 10, 20], "title": null, "labels": false}}, "y2": {"field": "q1"}}},
                {"mark": "rule", "encoding": {"x": {"field": "g", "type": "nominal", "axis": {"title": "GCM ID number"}}, "y": {"field": "q3", "type": "quantitative", "axis": {"values": [-30, -20, -10, 0, 10, 20], "title": null, "labels": false}}, "y2": {"field": "hi"}}},
                {"mark": {"type": "tick", "size": 5}, "encoding": {"x": {"field": "g", "type": "nominal", "axis": {"title": "GCM ID number"}}, "y": {"field": "lo", "type": "quantitative", "axis": {"values": [-30, -20, -10, 0, 10, 20], "title": null, "labels": false}}}},
                {"mark": {"type": "tick", "size": 5}, "encoding": {"x": {"field": "g", "type": "nominal", "axis": {"title": "GCM ID number"}}, "y": {"field": "hi", "type": "quantitative", "axis": {"values": [-30, -20, -10, 0, 10, 20], "title": null, "labels": false}}}},
                {"mark": {"type": "bar", "filled": false, "stroke": "#222", "strokeWidth": 1, "width": 8}, "encoding": {"x": {"field": "g", "type": "nominal", "axis": {"title": "GCM ID number"}}, "y": {"field": "q1", "type": "quantitative", "axis": {"values": [-30, -20, -10, 0, 10, 20], "title": null, "labels": false}}, "y2": {"field": "q3"}}},
                {"mark": {"type": "tick", "color": "#ff7f0e", "thickness": 1.2, "size": 8}, "encoding": {"x": {"field": "g", "type": "nominal", "axis": {"title": "GCM ID number"}}, "y": {"field": "md", "type": "quantitative", "axis": {"values": [-30, -20, -10, 0, 10, 20], "title": null, "labels": false}}}},
                {"transform": [{"filter": "datum.g === 'G0'"}], "mark": {"type": "rect", "filled": false, "stroke": "#222", "strokeWidth": 1},
                 "encoding": {"y": {"datum": -31.9, "type": "quantitative", "axis": {"values": [-30, -20, -10, 0, 10, 20], "title": null, "labels": false}}, "y2": {"datum": 29.5}}}
              ]
            },
            {
              "data": {"name": "box"},
              "transform": [{"filter": "datum.s === 'S' && datum.p === 'SSP5-8.5'"}],
              "width": 499, "height": 175,
              "layer": [
                {"transform": [{"filter": "datum.g === 'G0'"}], "mark": {"type": "rule", "color": "#f22", "strokeDash": [4, 2]},
                 "encoding": {"y": {"datum": 0, "type": "quantitative", "scale": {"domain": [-31.9, 29.5], "nice": false, "zero": false}, "axis": {"values": [-30, -20, -10, 0, 10, 20], "title": null, "labels": false}}}},
                {"mark": "rule", "encoding": {"x": {"field": "g", "type": "nominal", "axis": {"title": "GCM ID number"}, "scale": {"type": "band", "padding": 0, "domain": ["G0","G1","G2","G3","G4","G5","G6","G7","G8","G9","G10","G11","G12","G13","G14","G15","G16","G17","G18","G19","G20","G21","G22","G23","G24","G25","G26","G27","G28","G29","G30"]}}, "y": {"field": "lo", "type": "quantitative", "axis": {"values": [-30, -20, -10, 0, 10, 20], "title": null, "labels": false}}, "y2": {"field": "q1"}}},
                {"mark": "rule", "encoding": {"x": {"field": "g", "type": "nominal", "axis": {"title": "GCM ID number"}}, "y": {"field": "q3", "type": "quantitative", "axis": {"values": [-30, -20, -10, 0, 10, 20], "title": null, "labels": false}}, "y2": {"field": "hi"}}},
                {"mark": {"type": "tick", "size": 5}, "encoding": {"x": {"field": "g", "type": "nominal", "axis": {"title": "GCM ID number"}}, "y": {"field": "lo", "type": "quantitative", "axis": {"values": [-30, -20, -10, 0, 10, 20], "title": null, "labels": false}}}},
                {"mark": {"type": "tick", "size": 5}, "encoding": {"x": {"field": "g", "type": "nominal", "axis": {"title": "GCM ID number"}}, "y": {"field": "hi", "type": "quantitative", "axis": {"values": [-30, -20, -10, 0, 10, 20], "title": null, "labels": false}}}},
                {"mark": {"type": "bar", "filled": false, "stroke": "#222", "strokeWidth": 1, "width": 8}, "encoding": {"x": {"field": "g", "type": "nominal", "axis": {"title": "GCM ID number"}}, "y": {"field": "q1", "type": "quantitative", "axis": {"values": [-30, -20, -10, 0, 10, 20], "title": null, "labels": false}}, "y2": {"field": "q3"}}},
                {"mark": {"type": "tick", "color": "#ff7f0e", "thickness": 1.2, "size": 8}, "encoding": {"x": {"field": "g", "type": "nominal", "axis": {"title": "GCM ID number"}}, "y": {"field": "md", "type": "quantitative", "axis": {"values": [-30, -20, -10, 0, 10, 20], "title": null, "labels": false}}}},
                {"transform": [{"filter": "datum.g === 'G0'"}], "mark": {"type": "rect", "filled": false, "stroke": "#222", "strokeWidth": 1},
                 "encoding": {"y": {"datum": -31.9, "type": "quantitative", "axis": {"values": [-30, -20, -10, 0, 10, 20], "title": null, "labels": false}}, "y2": {"datum": 29.5}}}
              ]
            }
          ]
        }
      ]
    }
  ]
}
